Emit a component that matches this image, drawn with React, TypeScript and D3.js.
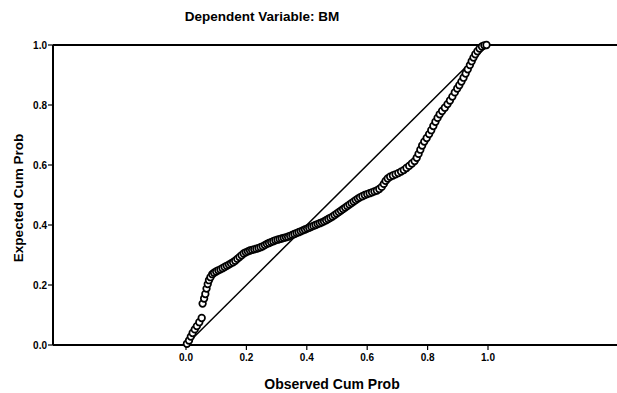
import React from 'react';
import * as d3 from 'd3';

// P-P plot of regression standardized residual
const observedCumProb = [
  0.003, 0.010, 0.016, 0.022, 0.029, 0.036, 0.044, 0.052,
  0.055, 0.060, 0.064, 0.068, 0.072, 0.076, 0.081, 0.087,
  0.093, 0.100, 0.107, 0.114, 0.121, 0.128, 0.135, 0.142, 0.149, 0.156,
  0.163, 0.170, 0.177, 0.184, 0.191, 0.198, 0.205, 0.212, 0.219, 0.226,
  0.233, 0.240, 0.247, 0.254, 0.261, 0.268, 0.275, 0.282, 0.289, 0.296,
  0.303, 0.310, 0.317, 0.324, 0.331, 0.338, 0.345, 0.352, 0.359, 0.366,
  0.373, 0.380, 0.387, 0.394, 0.401, 0.408, 0.415, 0.422, 0.429, 0.436,
  0.443, 0.450, 0.457, 0.464, 0.471, 0.478, 0.485, 0.492, 0.499, 0.506,
  0.513, 0.520, 0.527, 0.534, 0.541, 0.548, 0.555, 0.562, 0.569, 0.576,
  0.584, 0.592, 0.600, 0.608, 0.616, 0.624, 0.632, 0.640, 0.648, 0.655,
  0.661, 0.668, 0.676, 0.685, 0.694, 0.703, 0.712, 0.721, 0.730, 0.739,
  0.748, 0.757, 0.764, 0.770, 0.776, 0.782, 0.789, 0.797, 0.805, 0.812,
  0.819, 0.826, 0.833, 0.840, 0.848, 0.857, 0.866, 0.874, 0.882, 0.890,
  0.898, 0.905, 0.912, 0.919, 0.926, 0.933, 0.940, 0.946, 0.952, 0.958,
  0.965, 0.972, 0.980, 0.988, 0.995,
];
const expectedCumProb = [
  0.004, 0.015, 0.028, 0.040, 0.052, 0.063, 0.076, 0.090,
  0.138, 0.155, 0.170, 0.188, 0.203, 0.216, 0.226, 0.236,
  0.241, 0.245, 0.249, 0.252, 0.256, 0.260, 0.264, 0.268, 0.272, 0.276,
  0.281, 0.287, 0.293, 0.299, 0.305, 0.309, 0.312, 0.315, 0.317, 0.319,
  0.321, 0.323, 0.326, 0.329, 0.333, 0.337, 0.340, 0.343, 0.346, 0.349,
  0.351, 0.353, 0.355, 0.357, 0.359, 0.361, 0.364, 0.367, 0.370, 0.373,
  0.376, 0.379, 0.382, 0.385, 0.388, 0.391, 0.394, 0.397, 0.400, 0.403,
  0.406, 0.409, 0.412, 0.416, 0.420, 0.424, 0.428, 0.433, 0.438, 0.443,
  0.448, 0.453, 0.458, 0.463, 0.468, 0.473, 0.478, 0.483, 0.488, 0.492,
  0.496, 0.500, 0.503, 0.506, 0.509, 0.512, 0.515, 0.520, 0.527, 0.537,
  0.547, 0.555, 0.561, 0.565, 0.569, 0.573, 0.578, 0.583, 0.590, 0.597,
  0.605, 0.613, 0.624, 0.637, 0.651, 0.665, 0.678, 0.690, 0.703, 0.716,
  0.730, 0.744, 0.757, 0.769, 0.780, 0.791, 0.803, 0.815, 0.828, 0.842,
  0.855, 0.866, 0.878, 0.891, 0.905, 0.919, 0.933, 0.946, 0.958, 0.969,
  0.979, 0.988, 0.995, 0.999, 1.000,
];
const tickValues = [0, 0.2, 0.4, 0.6, 0.8, 1.0];

const title = 'Dependent Variable: BM';
const xTitle = 'Observed Cum Prob';
const yTitle = 'Expected Cum Prob';

const W = 617;
const H = 393;
const frameLeft = 53;
const frameRight = 617;
const font = '"Liberation Sans", Arial, sans-serif';

const App = () => {
  const x = d3.scaleLinear().domain([0, 1]).range([186, 488]);
  const y = d3.scaleLinear().domain([0, 1]).range([345, 45]);
  const fmt = d3.format('.1f');
  const points = observedCumProb.map((o, i) => [o, expectedCumProb[i]]);

  return (
    <svg width={W} height={H} style={{ position: 'absolute', left: 0, top: 0, background: '#fff' }}>
      <text x={262} y={21} textAnchor="middle" fontFamily={font} fontWeight="bold" fontSize={13.5}>{title}</text>

      {/* frame: left axis, top and bottom lines */}
      <line x1={frameLeft} x2={frameRight} y1={y(1)} y2={y(1)} stroke="#000" strokeWidth={2} />
      <line x1={frameLeft} x2={frameRight} y1={y(0)} y2={y(0)} stroke="#000" strokeWidth={2} />
      <line x1={frameLeft} x2={frameLeft} y1={y(1)} y2={y(0)} stroke="#000" strokeWidth={2} />

      {tickValues.map(t => (
        <g key={'y' + t}>
          <line x1={frameLeft - 5} x2={frameLeft} y1={y(t)} y2={y(t)} stroke="#000" strokeWidth={1.2} />
          <text x={frameLeft - 6} y={y(t)} dy="0.35em" textAnchor="end" fontFamily={font} fontWeight="bold" fontSize={10}>{fmt(t)}</text>
        </g>
      ))}
      {tickValues.map(t => (
        <g key={'x' + t}>
          <line x1={x(t)} x2={x(t)} y1={y(0)} y2={y(0) + 5} stroke="#000" strokeWidth={1.2} />
          <text x={x(t)} y={y(0) + 16} textAnchor="middle" fontFamily={font} fontWeight="bold" fontSize={10}>{fmt(t)}</text>
        </g>
      ))}

      <text x={332} y={389} textAnchor="middle" fontFamily={font} fontWeight="bold" fontSize={14}>{xTitle}</text>
      <text transform="translate(23,198) rotate(-90)" textAnchor="middle" fontFamily={font} fontWeight="bold" fontSize={13.5}>{yTitle}</text>

      {/* reference diagonal */}
      <line x1={x(0)} y1={y(0)} x2={x(1)} y2={y(1)} stroke="#000" strokeWidth={1.5} />

      {points.map((p, i) => (
        <circle key={i} cx={x(p[0])} cy={y(p[1])} r={3.3} fill="#fff" stroke="#000" strokeWidth={1.7} />
      ))}
    </svg>
  );
};

export default App;
